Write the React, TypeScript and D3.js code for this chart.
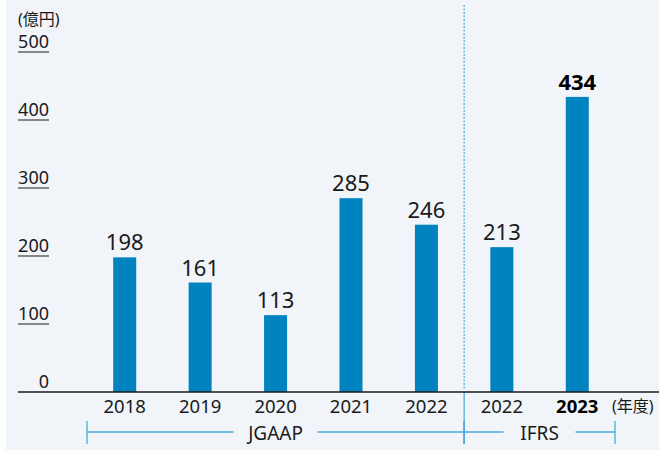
import React from "react";
import * as d3 from "d3";

const categories = ["2018", "2019", "2020", "2021", "2022", "2022b", "2023"];
const yearLabels = ["2018", "2019", "2020", "2021", "2022", "2022", "2023"];
const values = [198, 161, 113, 285, 246, 213, 434];
const boldFlags = [false, false, false, false, false, false, true];
const yTicks = [0, 100, 200, 300, 400, 500];
const groups = [
  { label: "JGAAP", from: 0, to: 5 },
  { label: "IFRS", from: 5, to: 7 },
];

const W = 659;
const H = 450;
const BG = "#f1f5f9";
const BAR = "#0083bf";
const LINE_BLUE = "#4aa9da";
const TXT = "#1a1a1a";
const FONT = "'Noto Sans', 'Noto Sans CJK JP', sans-serif";

export default function App() {
  const x = d3
    .scaleBand<string>()
    .domain(categories)
    .range([87, 615])
    .paddingInner(0.695)
    .paddingOuter(0.3475);
  const y = d3.scaleLinear().domain([0, 500]).range([392, 52]);
  const step = x.step();
  const start = 87;
  const edge = (i: number) => start + i * step;
  const sepX = edge(5);

  return (
    <svg
      width={W}
      height={H}
      style={{ position: "absolute", left: 0, top: 0, fontFamily: FONT }}
    >
      <rect x={0} y={0} width={W} height={H} fill="#ffffff" />
      <rect x={6} y={0} width={W - 6} height={H} fill={BG} />

      {/* unit label */}
      <text x={18} y={25} fontSize={16} fill={TXT}>
        (億円)
      </text>

      {/* y ticks */}
      {yTicks.map((t) => (
        <g key={t}>
          <text x={49} y={y(t) - 4} fontSize={18} textAnchor="end" fill={TXT}>
            {t}
          </text>
          {t !== 0 && (
            <line x1={18} x2={49} y1={y(t)} y2={y(t)} stroke={TXT} strokeWidth={1} />
          )}
        </g>
      ))}

      {/* separator */}
      <line
        x1={sepX}
        x2={sepX}
        y1={5}
        y2={390}
        stroke={LINE_BLUE}
        strokeWidth={1.2}
        strokeDasharray="2 1.5"
      />
      <line x1={sepX} x2={sepX} y1={392} y2={444} stroke={LINE_BLUE} strokeWidth={1.2} />

      {/* bars */}
      {categories.map((c, i) => (
        <g key={c}>
          <rect
            x={x(c)}
            y={y(values[i])}
            width={x.bandwidth()}
            height={y(0) - y(values[i])}
            fill={BAR}
          />
          <text
            x={(x(c) as number) + x.bandwidth() / 2}
            y={y(values[i]) - 7}
            fontSize={22}
            fontWeight={boldFlags[i] ? 700 : 400}
            textAnchor="middle"
            fill={boldFlags[i] ? "#000" : TXT}
          >
            {values[i]}
          </text>
          <text
            x={(x(c) as number) + x.bandwidth() / 2}
            y={413}
            fontSize={18.5}
            fontWeight={boldFlags[i] ? 700 : 400}
            textAnchor="middle"
            fill={boldFlags[i] ? "#000" : TXT}
          >
            {yearLabels[i]}
          </text>
        </g>
      ))}

      {/* axis line */}
      <line x1={18} x2={W} y1={392} y2={392} stroke={TXT} strokeWidth={1.3} />

      <text x={612} y={412} fontSize={16} fill={TXT}>
        (年度)
      </text>

      {/* brackets */}
      {groups.map((g) => {
        const x1 = edge(g.from);
        const x2 = edge(g.to);
        const cx = (x1 + x2) / 2;
        const half = g.label.length * 6 + 12;
        return (
          <g key={g.label}>
            <line x1={x1} x2={cx - half} y1={432} y2={432} stroke={LINE_BLUE} strokeWidth={1.3} />
            <line x1={cx + half} x2={x2} y1={432} y2={432} stroke={LINE_BLUE} strokeWidth={1.3} />
            <line x1={x1} x2={x1} y1={421} y2={444} stroke={LINE_BLUE} strokeWidth={1.3} />
            <line x1={x2} x2={x2} y1={421} y2={444} stroke={LINE_BLUE} strokeWidth={1.3} />
            <text x={cx} y={440} fontSize={19} textAnchor="middle" fill={TXT}>
              {g.label}
            </text>
          </g>
        );
      })}
    </svg>
  );
}
